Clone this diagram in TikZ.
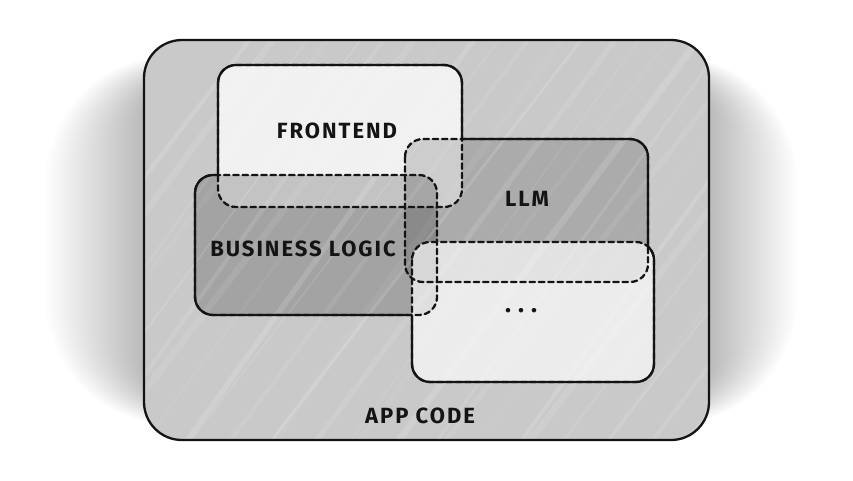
\documentclass[tikz,border=0pt]{standalone}
\usepackage{fontspec}
\setmainfont{Fira Sans}[LetterSpace=9]
\usetikzlibrary{calc}
\begin{document}
\begin{tikzpicture}[x=1pt,y=-1pt,
  outline/.style={line width=2.3pt, line join=round, draw=black!92},
  dashline/.style={outline, dash pattern=on 5.5pt off 3.8pt, line cap=round},
  lbl/.style={font=\bfseries\fontsize{22}{22}\selectfont, text=black!92, inner sep=0pt},
  innerbox/.style={rounded corners=18pt},
  outerbox/.style={rounded corners=38pt}]
\useasboundingbox (0,0) rectangle (853,480);
\fill[white] (0,0) rectangle (853,480);
% box corners
\coordinate (app1) at (144,40);  \coordinate (app2) at (709,440);
\coordinate (fe1) at (218,65);   \coordinate (fe2) at (462,207);
\coordinate (bl1) at (195,175);  \coordinate (bl2) at (437,315);
\coordinate (llm1) at (405,139); \coordinate (llm2) at (648,282);
\coordinate (dt1) at (412,242);  \coordinate (dt2) at (654,382);
% blurred shadow (stronger on the sides)
\foreach \i in {1,...,34}{
  \fill[black, opacity=0.0095, rounded corners={(40+2.5*\i)*1pt}]
    ($(app1)+(-2.9*\i,40-0.7*\i)$) rectangle ($(app2)+(2.6*\i,-40+0.7*\i)$);
}
% fills
\fill[black!21, outerbox] (app1) rectangle (app2);
\fill[white, opacity=0.74, innerbox] (fe1) rectangle (fe2);
\fill[black, opacity=0.19, innerbox] (bl1) rectangle (bl2);
\fill[black, opacity=0.15, innerbox] (llm1) rectangle (llm2);
\fill[white, opacity=0.66, innerbox] (dt1) rectangle (dt2);
% sketchy streaks
\begin{scope}
  \clip[outerbox] (app1) rectangle (app2);
  \foreach \x [count=\c] in {40,62,95,118,150,172,205,232,262,290,318,350,372,405,428,460,488,515,548,570,600,633,655,688,712,745,770,800,828,860,890,920} {
    \pgfmathsetmacro{\w}{1.5+1.3*mod(\c*7,5)}
    \pgfmathsetmacro{\op}{0.05+0.03*mod(\c*3,4)}
    \pgfmathsetmacro{\dx}{mod(\c*13,40)-20}
    \draw[white, opacity=\op, line width=\w pt, line cap=round] (\x-120+\dx,480) -- (\x+240,0);
  }
\end{scope}
% dashed outlines (overlap parts)
\draw[dashline, innerbox] (fe1) rectangle (fe2);
\draw[dashline, innerbox] (bl1) rectangle (bl2);
\draw[dashline, innerbox] (llm1) rectangle (llm2);
\draw[dashline, innerbox] (dt1) rectangle (dt2);
% solid outlines outside other boxes
\begin{scope}[even odd rule]
  \clip[innerbox] (-60,-60) rectangle (920,540) (bl1) rectangle (bl2);
  \clip[innerbox] (-60,-60) rectangle (920,540) (llm1) rectangle (llm2);
  \draw[outline, innerbox] (fe1) rectangle (fe2);
\end{scope}
\begin{scope}[even odd rule]
  \clip[innerbox] (-60,-60) rectangle (920,540) (fe1) rectangle (fe2);
  \clip[innerbox] (-60,-60) rectangle (920,540) (llm1) rectangle (llm2);
  \clip[innerbox] (-60,-60) rectangle (920,540) (dt1) rectangle (dt2);
  \draw[outline, innerbox] (bl1) rectangle (bl2);
\end{scope}
\begin{scope}[even odd rule]
  \clip[innerbox] (-60,-60) rectangle (920,540) (fe1) rectangle (fe2);
  \clip[innerbox] (-60,-60) rectangle (920,540) (bl1) rectangle (bl2);
  \clip[innerbox] (-60,-60) rectangle (920,540) (dt1) rectangle (dt2);
  \draw[outline, innerbox] (llm1) rectangle (llm2);
\end{scope}
\begin{scope}[even odd rule]
  \clip[innerbox] (-60,-60) rectangle (920,540) (bl1) rectangle (bl2);
  \clip[innerbox] (-60,-60) rectangle (920,540) (llm1) rectangle (llm2);
  \draw[outline, innerbox] (dt1) rectangle (dt2);
\end{scope}
\draw[outline, outerbox] (app1) rectangle (app2);
% labels
\node[lbl] (tfe) at (337,131) {FRONTEND};
\node[lbl] (tbl) at (303,249) {BUSINESS LOGIC};
\node[lbl] (tllm) at (527,199) {LLM};
\node[lbl, font=\bfseries\fontsize{25}{25}\selectfont] (tdots) at (521,311) {.\kern7pt.\kern7pt.};
\node[lbl] (tapp) at (420,416) {APP CODE};
\end{tikzpicture}
\end{document}
